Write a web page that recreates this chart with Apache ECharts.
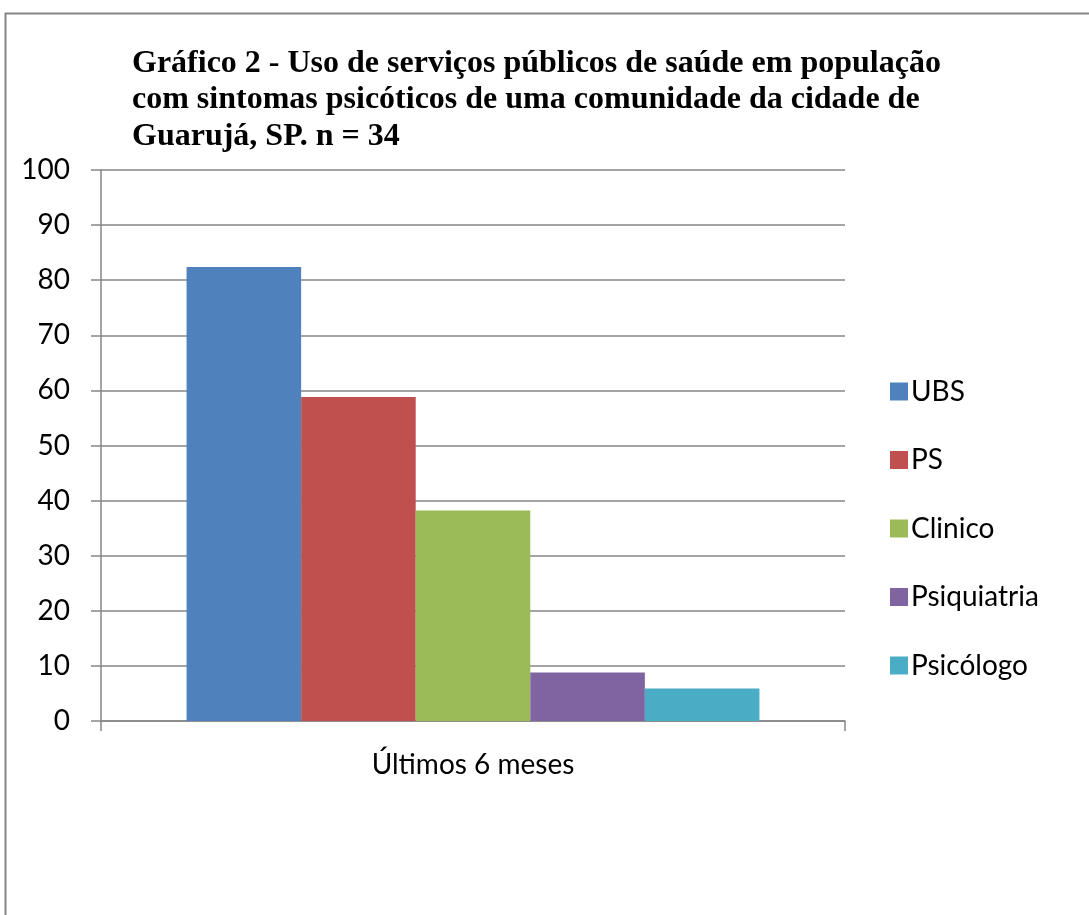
<!DOCTYPE html>
<html><head><meta charset="utf-8">
<script src="https://cdn.jsdelivr.net/npm/echarts@6/dist/echarts.min.js"></script>
<style>html,body{margin:0;padding:0;background:#fff}#c{width:1089px;height:915px}</style>
</head><body><div id="c"></div>
<script>
const categories = ['Últimos 6 meses'];
const seriesNames = ['UBS', 'PS', 'Clinico', 'Psiquiatria', 'Psicólogo'];
const seriesValues = [[82.4], [58.8], [38.2], [8.8], [5.9]];
const colors = ['#4F81BD', '#C0504D', '#9BBB59', '#8064A2', '#4BACC6'];
const titleText = 'Gráfico 2 - Uso de serviços públicos de saúde em população\ncom sintomas psicóticos de uma comunidade da cidade de\nGuarujá, SP. n = 34';
const labelFont = 'Lato, "Open Sans", sans-serif';

const chart = echarts.init(document.getElementById('c'), null, {renderer: 'canvas'});
chart.setOption({
  animation: false,
  backgroundColor: '#fff',
  color: colors,
  title: {
    text: titleText, left: 127, top: 40,
    textStyle: {fontFamily: '"Liberation Serif", serif', fontWeight: 'bold', fontSize: 32, lineHeight: 36.5, color: '#000'}
  },
  graphic: [{type: 'rect', shape: {x: 5.5, y: 13.5, width: 1200, height: 1000}, style: {fill: 'none', stroke: '#868686', lineWidth: 2}, silent: true}],
  legend: {
    orient: 'vertical', left: 885, top: 372, itemGap: 39.5, itemWidth: 18, itemHeight: 18,
    icon: 'rect', textStyle: {fontFamily: labelFont, fontSize: 28, lineHeight: 29, color: '#000', padding: [0, 0, 0, -2]},
    data: seriesNames
  },
  grid: {left: 101, right: 244, top: 170, bottom: 194, containLabel: false},
  xAxis: {
    type: 'category', data: categories,
    axisLine: {lineStyle: {color: '#868686', width: 1.5}},
    axisTick: {show: true, length: 10, lineStyle: {color: '#868686', width: 1.5}},
    axisLabel: {fontFamily: labelFont, fontSize: 28, color: '#000', margin: 30}
  },
  yAxis: {
    type: 'value', min: 0, max: 100, interval: 10,
    axisLine: {show: true, lineStyle: {color: '#868686', width: 1.5}},
    axisTick: {show: true, length: 10, lineStyle: {color: '#868686', width: 1.5}},
    splitLine: {lineStyle: {color: '#868686', width: 1.5}},
    axisLabel: {fontFamily: labelFont, fontSize: 28, color: '#000', margin: 31}
  },
  series: seriesNames.map((n, i) => ({
    name: n, type: 'bar', data: seriesValues[i], barGap: '0%', barCategoryGap: '23%'
  }))
});
</script></body></html>
